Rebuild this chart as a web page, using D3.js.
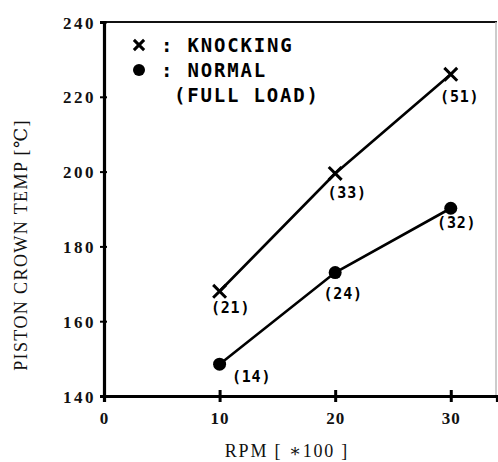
<!DOCTYPE html>
<html>
<head>
<meta charset="utf-8">
<script src="https://cdn.jsdelivr.net/npm/d3@7"></script>
<style>
  body { margin: 0; background: #fff; }
  svg { display: block; }
</style>
</head>
<body>
<div id="chart"></div>
<script>
// data
const rpm = [10, 20, 30];
const knocking = [168, 199.5, 226];
const normal = [148.5, 173, 190.2];
const knockingLabels = ["(21)", "(33)", "(51)"];
const normalLabels = ["(14)", "(24)", "(32)"];
const xTicks = [0, 10, 20, 30];
const yTicks = [140, 160, 180, 200, 220, 240];
const legendItems = [": KNOCKING", ": NORMAL", "(FULL LOAD)"];

const width = 498, height = 462;

const svg = d3.select("#chart").append("svg")
    .attr("width", width)
    .attr("height", height);

const x = d3.scaleLinear().domain([0, 34]).range([104, 497]);
const y = d3.scaleLinear().domain([140, 240]).range([396, 22]);

const serif = "'Liberation Serif', 'DejaVu Serif', serif";
const mono = "'DejaVu Sans Mono', 'Liberation Mono', monospace";

// frame: top and right edges (right one faint, as in the scan)
svg.append("line")
    .attr("x1", x(0)).attr("x2", x(34))
    .attr("y1", y(240)).attr("y2", y(240))
    .attr("stroke", "#111").attr("stroke-width", 2.2);
svg.append("line")
    .attr("x1", x(34) - 1).attr("x2", x(34) - 1)
    .attr("y1", y(240)).attr("y2", y(140))
    .attr("stroke", "#bbb").attr("stroke-width", 1.5);

// y axis
const yAxis = svg.append("g")
    .attr("transform", `translate(${x(0)},0)`)
    .call(d3.axisLeft(y).tickValues(yTicks).tickSize(4).tickPadding(4));
yAxis.select(".domain").attr("stroke", "#000").attr("stroke-width", 3.2);
yAxis.selectAll(".tick line")
    .attr("x2", 3).attr("x1", -4)
    .attr("stroke", "#000").attr("stroke-width", 2);
yAxis.selectAll(".tick text")
    .attr("font-family", serif).attr("font-size", 17).attr("font-weight", "bold")
    .attr("letter-spacing", 2.5).attr("fill", "#111")
    .attr("dy", "0.36em");

// x axis
const xAxis = svg.append("g")
    .attr("transform", `translate(0,${y(140)})`)
    .call(d3.axisBottom(x).tickValues(xTicks).tickSize(6).tickPadding(10));
xAxis.select(".domain").attr("stroke", "#000").attr("stroke-width", 3.2);
xAxis.selectAll(".tick line")
    .attr("y1", -6).attr("y2", 6)
    .attr("stroke", "#000").attr("stroke-width", 3);
xAxis.selectAll(".tick").filter(d => d === 0).select("line").remove();
xAxis.selectAll(".tick text")
    .attr("font-family", serif).attr("font-size", 17).attr("font-weight", "bold")
    .attr("letter-spacing", 1).attr("fill", "#111");

// axis titles
svg.append("text")
    .attr("transform", `translate(27,${245}) rotate(-90)`)
    .attr("text-anchor", "middle")
    .attr("font-family", serif).attr("font-size", 18)
    .attr("letter-spacing", 1.4).attr("fill", "#111")
    .text("PISTON CROWN TEMP [℃]");
svg.append("text")
    .attr("x", 287).attr("y", 457)
    .attr("text-anchor", "middle")
    .attr("font-family", serif).attr("font-size", 18)
    .attr("letter-spacing", 1.8).attr("fill", "#111")
    .text("RPM [ ∗100 ]");

// series
const line = d3.line().x(d => x(d[0])).y(d => y(d[1]));
const kData = rpm.map((r, i) => [r, knocking[i]]);
const nData = rpm.map((r, i) => [r, normal[i]]);

svg.append("path").datum(kData).attr("d", line)
    .attr("fill", "none").attr("stroke", "#000").attr("stroke-width", 2.6);
svg.append("path").datum(nData).attr("d", line)
    .attr("fill", "none").attr("stroke", "#000").attr("stroke-width", 2.6);

const cross = d3.symbol().type(d3.symbolX).size(110);
svg.selectAll(".kmark").data(kData).enter().append("path")
    .attr("class", "kmark")
    .attr("d", cross)
    .attr("transform", d => `translate(${x(d[0])},${y(d[1])})`)
    .attr("fill", "none").attr("stroke", "#000").attr("stroke-width", 3);

svg.selectAll(".nmark").data(nData).enter().append("circle")
    .attr("class", "nmark")
    .attr("cx", d => x(d[0])).attr("cy", d => y(d[1]))
    .attr("r", 6.5).attr("fill", "#000");

// point labels, nudged off each marker
const kOffsets = [[11, 22], [12, 25], [9, 28]];
const nOffsets = [[32, 18], [8, 26], [6, 20]];

function addLabels(data, labels, offsets) {
    svg.selectAll(null).data(data).enter().append("text")
        .attr("x", (d, i) => x(d[0]) + offsets[i][0])
        .attr("y", (d, i) => y(d[1]) + offsets[i][1])
        .attr("text-anchor", "middle")
        .attr("font-family", mono).attr("font-size", 15).attr("font-weight", "bold")
        .attr("letter-spacing", 0.8).attr("fill", "#000")
        .text((d, i) => labels[i]);
}
addLabels(kData, knockingLabels, kOffsets);
addLabels(nData, normalLabels, nOffsets);

// legend
const legend = svg.append("g");
legend.append("path")
    .attr("d", d3.symbol().type(d3.symbolX).size(70))
    .attr("transform", "translate(139,45)")
    .attr("fill", "none").attr("stroke", "#000").attr("stroke-width", 3);
legend.append("circle")
    .attr("cx", 139).attr("cy", 70).attr("r", 6).attr("fill", "#000");
legend.selectAll("text").data(legendItems).enter().append("text")
    .attr("x", (d, i) => i < 2 ? 161 : 174)
    .attr("y", (d, i) => 52 + i * 25)
    .attr("font-family", mono).attr("font-size", 19).attr("font-weight", "bold")
    .attr("letter-spacing", 1.8).attr("fill", "#000")
    .text(d => d);
</script>
</body>
</html>
